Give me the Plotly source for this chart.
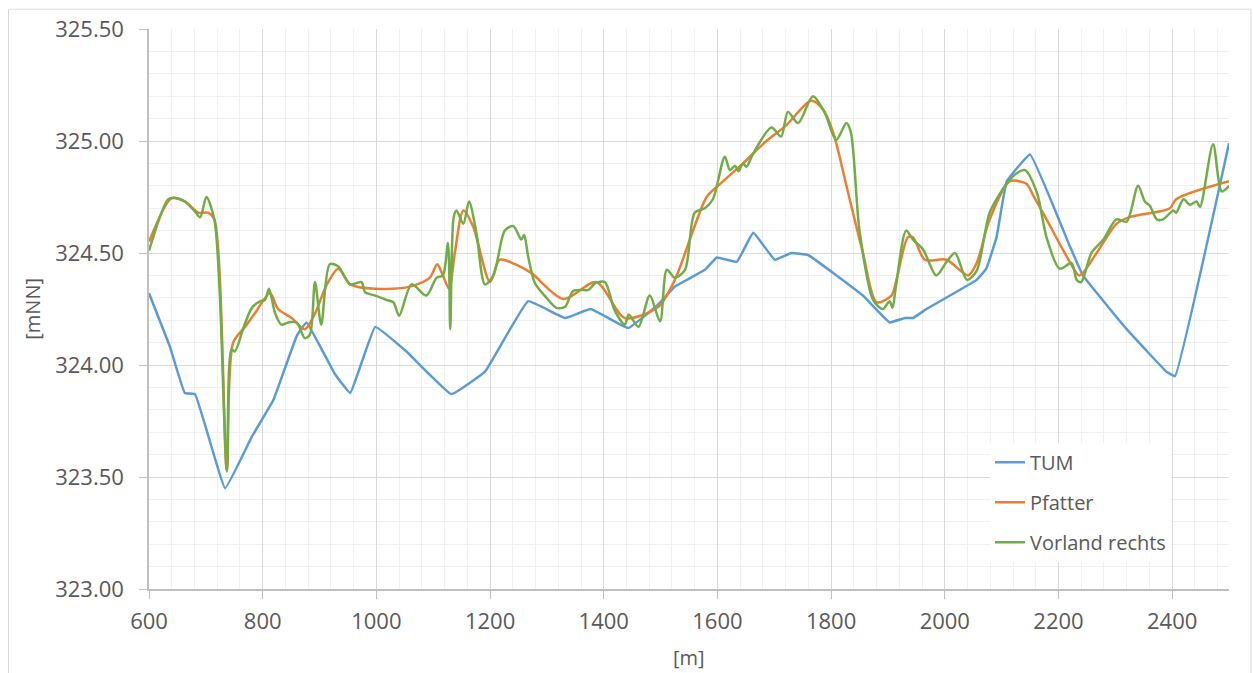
import plotly.graph_objects as go

# Stationierung [m] und Wasserspiegellagen [mNN]
tum_x = [600, 637, 663, 681, 734, 781, 819, 860, 877, 927, 954, 998, 1053, 1132, 1191, 1267,
         1332, 1377, 1443, 1496, 1525, 1578, 1599, 1634, 1663, 1701, 1730, 1760, 1856, 1903,
         1930, 1944, 1968, 2056, 2073, 2091, 2109, 2150, 2220, 2243, 2320, 2390, 2405, 2500]
tum_y = [324.32, 324.08, 323.875, 323.87, 323.45, 323.68, 323.845, 324.13, 324.19, 323.96,
         323.875, 324.17, 324.06, 323.87, 323.97, 324.285, 324.21, 324.25, 324.165, 324.27,
         324.35, 324.425, 324.48, 324.46, 324.59, 324.47, 324.50, 324.49, 324.31, 324.19,
         324.21, 324.21, 324.25, 324.38, 324.43, 324.57, 324.82, 324.94, 324.53, 324.40,
         324.16, 323.97, 323.95, 324.99]

pfatter_x = [600, 640, 663, 687, 704, 715, 737, 748, 769, 786, 813, 827, 851, 874, 892, 913,
             933, 954, 998, 1059, 1094, 1107, 1117, 1128, 1138, 1153, 1170, 1200, 1217, 1244,
             1273, 1329, 1387, 1437, 1496, 1525, 1581, 1601, 1645, 1686, 1721, 1765, 1786, 1804,
             1827, 1856, 1880, 1906, 1915, 1935, 1944, 1965, 2003, 2041, 2056, 2079, 2114, 2143,
             2155, 2179, 2220, 2237, 2267, 2302, 2325, 2396, 2407, 2500]
pfatter_y = [324.55, 324.745, 324.73, 324.68, 324.68, 324.65, 323.525, 324.10, 324.17, 324.23,
             324.32, 324.25, 324.21, 324.16, 324.23, 324.36, 324.43, 324.36, 324.34, 324.35,
             324.39, 324.45, 324.40, 324.34, 324.50, 324.69, 324.62, 324.37, 324.47, 324.45,
             324.41, 324.295, 324.37, 324.21, 324.26, 324.38, 324.75, 324.80, 324.90, 325.00,
             325.07, 325.18, 325.14, 325.035, 324.80, 324.50, 324.28, 324.31, 324.38, 324.57,
             324.57, 324.47, 324.47, 324.40, 324.455, 324.65, 324.82, 324.81, 324.76, 324.65,
             324.46, 324.40, 324.50, 324.63, 324.66, 324.70, 324.74, 324.82]

vorland_x = [600, 634, 646, 663, 681, 690, 701, 715, 724, 737, 745, 751, 766, 781, 796, 804,
             811, 822, 833, 845, 860, 874, 883, 892, 903, 918, 933, 954, 974, 980, 998, 1018,
             1030, 1040, 1062, 1088, 1106, 1117, 1126, 1130, 1136, 1141, 1153, 1163, 1176, 1191,
             1206, 1226, 1241, 1255, 1260, 1267, 1279, 1296, 1317, 1332, 1346, 1361, 1373, 1385,
             1402, 1419, 1437, 1444, 1461, 1481, 1499, 1511, 1525, 1543, 1560, 1578, 1592, 1613,
             1622, 1631, 1637, 1645, 1651, 1663, 1695, 1712, 1724, 1742, 1768, 1789, 1809, 1827,
             1835, 1850, 1874, 1891, 1903, 1908, 1914, 1932, 1944, 1962, 1985, 2003, 2018, 2039,
             2056, 2079, 2109, 2126, 2141, 2162, 2179, 2202, 2223, 2232, 2240, 2258, 2279, 2302,
             2320, 2340, 2352, 2361, 2373, 2384, 2402, 2407, 2420, 2431, 2443, 2449, 2472, 2487,
             2500]
vorland_y = [324.51, 324.74, 324.745, 324.73, 324.685, 324.66, 324.75, 324.65, 324.35, 323.53,
             324.07, 324.06, 324.165, 324.255, 324.285, 324.29, 324.34, 324.23, 324.18, 324.19,
             324.19, 324.12, 324.135, 324.37, 324.18, 324.45, 324.44, 324.36, 324.37, 324.325,
             324.31, 324.29, 324.28, 324.22, 324.36, 324.31, 324.39, 324.40, 324.545, 324.16,
             324.66, 324.69, 324.63, 324.73, 324.59, 324.36, 324.40, 324.60, 324.62, 324.56,
             324.58, 324.485, 324.365, 324.31, 324.255, 324.26, 324.33, 324.335, 324.335, 324.365,
             324.37, 324.245, 324.18, 324.225, 324.17, 324.31, 324.195, 324.425, 324.39, 324.425,
             324.68, 324.70, 324.74, 324.93, 324.87, 324.89, 324.865, 324.90, 324.885, 324.945,
             325.06, 325.02, 325.13, 325.08, 325.20, 325.125, 325.005, 325.08, 325.035, 324.60,
             324.29, 324.25, 324.285, 324.255, 324.35, 324.60, 324.56, 324.515, 324.40, 324.46,
             324.50, 324.38, 324.42, 324.68, 324.81, 324.855, 324.87, 324.77, 324.57, 324.43,
             324.455, 324.38, 324.37, 324.50, 324.56, 324.65, 324.64, 324.80, 324.73, 324.71,
             324.65, 324.65, 324.69, 324.68, 324.74, 324.715, 324.73, 324.705, 324.985, 324.775,
             324.80]

x_ticks = [600, 800, 1000, 1200, 1400, 1600, 1800, 2000, 2200, 2400]
y_ticks = [323.0, 323.5, 324.0, 324.5, 325.0, 325.5]

FONT = "Open Sans"
TXT = "#595959"

fig = go.Figure()
fig.add_trace(go.Scatter(x=tum_x, y=tum_y, name="TUM", mode="lines",
                         line=dict(color="#5B9BD5", width=2.5, shape="spline", smoothing=0.25),
                         legendgroup="a"))
fig.add_trace(go.Scatter(x=pfatter_x, y=pfatter_y, name="Pfatter", mode="lines",
                         line=dict(color="#ED7D31", width=2.5, shape="spline", smoothing=0.8),
                         legendgroup="b"))
fig.add_trace(go.Scatter(x=vorland_x, y=vorland_y, name="Vorland rechts", mode="lines",
                         line=dict(color="#70AD47", width=2.5, shape="spline", smoothing=0.8),
                         legendgroup="c"))

# Plot area: 149..1229 px horizontally, 29.3..589.3 px vertically
L, R, T, B = 149, 1229, 29.3, 589.3
W, H = R - L, B - T


def px(xp):
    return (xp - L) / W


def py(yp):
    return (B - yp) / H


fig.update_layout(
    width=1253, height=673,
    margin=dict(l=L, r=1253 - R, t=T, b=673 - B, autoexpand=False),
    paper_bgcolor="white", plot_bgcolor="white",
    font=dict(family=FONT, color=TXT, size=20),
    showlegend=True,
    legend=dict(x=px(990), y=py(443), xanchor="left", yanchor="top",
                bgcolor="white", font=dict(size=20, color=TXT),
                tracegroupgap=11, itemwidth=30),
    xaxis=dict(range=[600, 2500], tickvals=x_ticks, ticktext=[str(v) for v in x_ticks],
               showgrid=True, gridcolor="#d9d9d9", gridwidth=1,
               minor=dict(dtick=40, tick0=600, showgrid=True, gridcolor="#f0f0f0", gridwidth=1),
               showline=True, linecolor="#bfbfbf", linewidth=1.5,
               ticks="outside", ticklen=8, tickcolor="#bfbfbf", tickwidth=1,
               tickfont=dict(size=22, color=TXT, family=FONT), ticklabelstandoff=4,
               zeroline=False),
    yaxis=dict(range=[323.0, 325.5], tickvals=y_ticks, ticktext=["%.2f" % v for v in y_ticks],
               showgrid=True, gridcolor="#d9d9d9", gridwidth=1,
               minor=dict(dtick=0.1, tick0=323.0, showgrid=True, gridcolor="#f0f0f0", gridwidth=1),
               showline=True, linecolor="#bfbfbf", linewidth=1.5,
               ticks="outside", ticklen=8, tickcolor="#bfbfbf", tickwidth=1,
               tickfont=dict(size=22, color=TXT, family=FONT), ticklabelstandoff=11,
               zeroline=False),
)

# axis titles
fig.add_annotation(text="[mNN]", x=px(33), y=py(309), xref="paper", yref="paper",
                   textangle=-90, showarrow=False, font=dict(size=20, color=TXT, family=FONT),
                   xanchor="center", yanchor="middle")
fig.add_annotation(text="[m]", x=px(689), y=py(658), xref="paper", yref="paper",
                   showarrow=False, font=dict(size=20, color=TXT, family=FONT),
                   xanchor="center", yanchor="middle")

# chart frame
fig.add_shape(type="rect", xref="paper", yref="paper",
              x0=px(8.5), x1=px(1251), y0=py(690), y1=py(9.5),
              line=dict(color="#d9d9d9", width=1), fillcolor="rgba(0,0,0,0)", layer="below")

fig.write_html("out.html")
